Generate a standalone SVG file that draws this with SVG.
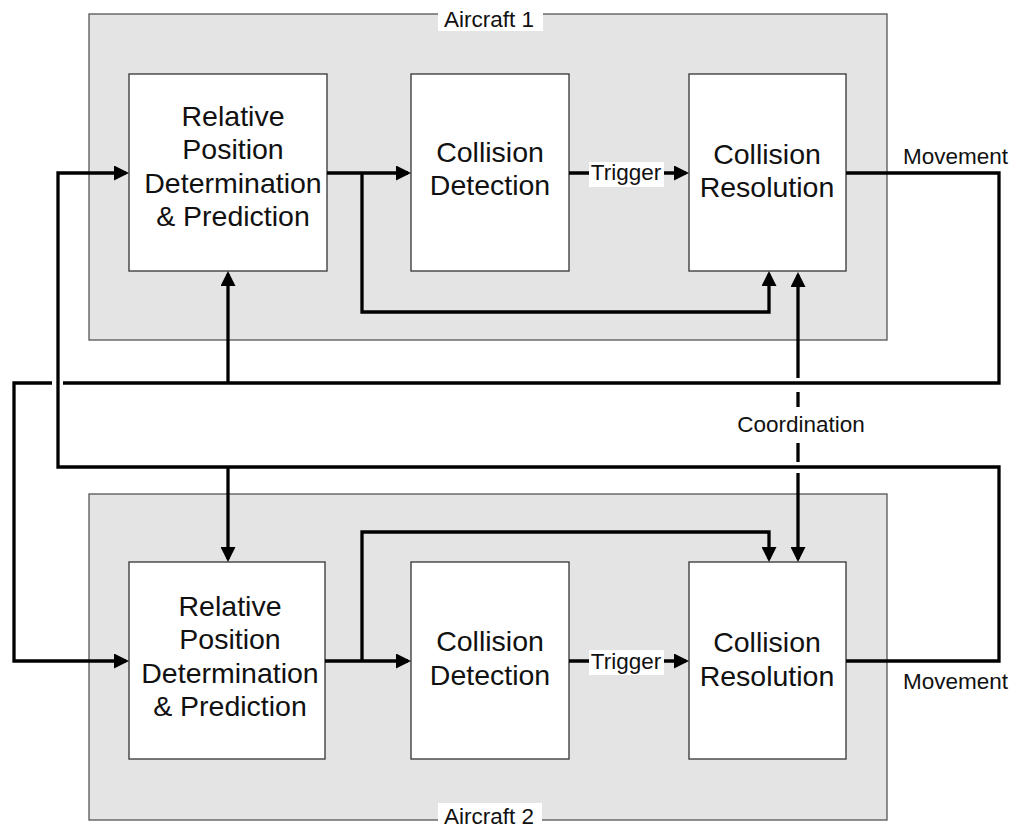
<svg xmlns="http://www.w3.org/2000/svg" width="1016" height="828" viewBox="0 0 1016 828">
<style>
.bg{fill:#ffffff}
.container{fill:#e4e4e4;stroke:#555555;stroke-width:1.3}
.node{fill:#ffffff;stroke:#333333;stroke-width:1.3}
.big{font-family:"Liberation Sans",Arial,sans-serif;font-size:28.5px;fill:#111111;text-anchor:middle}
.lbl{font-family:"Liberation Sans",Arial,sans-serif;font-size:22.5px;fill:#111111}
.mid{text-anchor:middle}
.conn{fill:none;stroke:#000000;stroke-width:3.3;stroke-linejoin:miter;stroke-linecap:butt}
.lblbg{fill:#ffffff}
</style>
<defs>
<marker id="arr" viewBox="0 0 15 15" refX="12" refY="7.5" markerWidth="15" markerHeight="15" markerUnits="userSpaceOnUse" orient="auto">
<path d="M0,0 L15,7.5 L0,15 z" fill="#000000"/>
</marker>
</defs>
<rect class="bg" x="0" y="0" width="1016" height="828"/>

<g id="aircraft1">
<rect class="container" x="89" y="14" width="798" height="326"/>
<rect class="lblbg" x="438" y="0" width="105" height="31"/>
<text class="lbl mid" x="489" y="27">Aircraft 1</text>
</g>
<g id="aircraft2">
<rect class="container" x="89" y="494" width="798" height="326"/>
<rect class="lblbg" x="438" y="803" width="104" height="25"/>
<text class="lbl mid" x="489" y="824">Aircraft 2</text>
</g>

<g id="rpdp1">
<rect class="node" x="129" y="74" width="198" height="197"/>
<text class="big" x="233" y="126">Relative</text>
<text class="big" x="233" y="159">Position</text>
<text class="big" x="233" y="193">Determination</text>
<text class="big" x="233" y="226">&amp; Prediction</text>
</g>
<g id="cd1">
<rect class="node" x="411" y="74" width="158" height="197"/>
<text class="big" x="490" y="162">Collision</text>
<text class="big" x="490" y="195">Detection</text>
</g>
<g id="cr1">
<rect class="node" x="689" y="74" width="157" height="197"/>
<text class="big" x="767" y="164">Collision</text>
<text class="big" x="767" y="197">Resolution</text>
</g>

<g id="rpdp2">
<rect class="node" x="129" y="562" width="196" height="197"/>
<text class="big" x="230" y="616">Relative</text>
<text class="big" x="230" y="649">Position</text>
<text class="big" x="230" y="683">Determination</text>
<text class="big" x="230" y="716">&amp; Prediction</text>
</g>
<g id="cd2">
<rect class="node" x="411" y="562" width="158" height="197"/>
<text class="big" x="490" y="651">Collision</text>
<text class="big" x="490" y="685">Detection</text>
</g>
<g id="cr2">
<rect class="node" x="689" y="562" width="157" height="197"/>
<text class="big" x="767" y="652">Collision</text>
<text class="big" x="767" y="686">Resolution</text>
</g>

<g id="connectors">
<path class="conn" d="M327,173 H408" marker-end="url(#arr)"/>
<path class="conn" d="M362,173 V312 H769 V274" marker-end="url(#arr)"/>
<path class="conn" d="M569,173 H686" marker-end="url(#arr)"/>
<path class="conn" d="M846,173 H999 V383 H63"/>
<path class="conn" d="M52,383 H14 V661 H126" marker-end="url(#arr)"/>
<path class="conn" d="M228,383 V274" marker-end="url(#arr)"/>
<path class="conn" d="M846,661 H999 V467 H58 V173 H126" marker-end="url(#arr)"/>
<path class="conn" d="M228,467 V559" marker-end="url(#arr)"/>
<path class="conn" d="M325,661 H408" marker-end="url(#arr)"/>
<path class="conn" d="M362,661 V532 H769 V559" marker-end="url(#arr)"/>
<path class="conn" d="M569,661 H686" marker-end="url(#arr)"/>
<path class="conn" d="M798,378 V275" marker-end="url(#arr)"/>
<path class="conn" d="M798,392 V407"/>
<path class="conn" d="M798,443 V462"/>
<path class="conn" d="M798,473 V559" marker-end="url(#arr)"/>
</g>

<g id="labels">
<rect class="lblbg" x="589" y="162" width="75" height="25"/>
<text class="lbl mid" x="626" y="180">Trigger</text>
<rect class="lblbg" x="589" y="650" width="75" height="25"/>
<text class="lbl mid" x="626" y="669">Trigger</text>
<text class="lbl" x="903" y="164">Movement</text>
<text class="lbl" x="903" y="689">Movement</text>
<text class="lbl mid" x="801" y="432">Coordination</text>
</g>
</svg>
